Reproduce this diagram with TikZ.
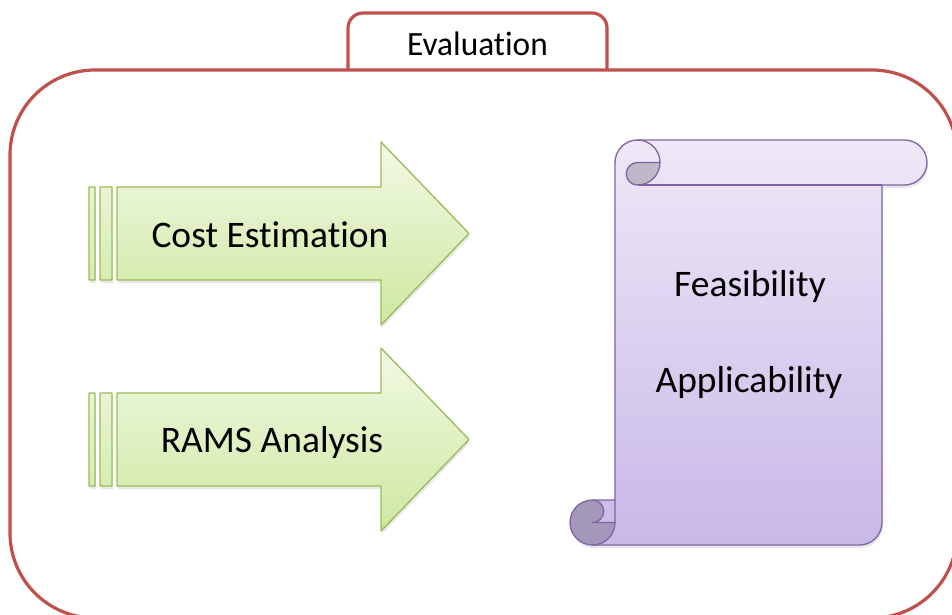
\documentclass[tikz,border=0pt]{standalone}
\usepackage{fontspec}
\setmainfont{Carlito}[Ligatures=NoCommon]
\usetikzlibrary{shadows}

\definecolor{frameRed}{RGB}{192,80,77}
\definecolor{arrowLine}{RGB}{155,187,89}
\definecolor{arrowTop}{RGB}{241,249,228}
\definecolor{arrowBot}{RGB}{206,232,160}
\definecolor{scrollLine}{RGB}{128,100,162}
\definecolor{scrollTop}{RGB}{238,232,247}
\definecolor{scrollBot}{RGB}{200,184,232}
\definecolor{curlTop}{RGB}{190,184,200}
\definecolor{curlBot}{RGB}{164,151,188}

\begin{document}
\begin{tikzpicture}[x=1pt, y=-1pt, line join=round,
  framepen/.style={draw=frameRed, line width=3.2pt},
  arrowshape/.style={draw=arrowLine, line width=1.3pt,
    top color=arrowTop, bottom color=arrowBot,
    drop shadow={opacity=0.18, shadow xshift=1pt, shadow yshift=-3pt}},
  scrollshape/.style={draw=none, top color=scrollTop, bottom color=scrollBot,
    drop shadow={opacity=0.18, shadow xshift=1pt, shadow yshift=-3pt}},
  scrollpen/.style={draw=scrollLine, line width=1.3pt},
  bigtext/.style={font=\fontsize{37.5}{42}\selectfont, anchor=base, inner sep=0pt},
  tabtext/.style={font=\fontsize{34}{38}\selectfont, anchor=base, inner sep=0pt}
]
\useasboundingbox (0,0) rectangle (952,615);
\fill[white] (0,0) rectangle (952,615);

% outer frame with its title tab
\begin{scope}
  \clip (0,0) rectangle (952,615);
  \draw[framepen, fill=white, rounded corners=15pt] (348,71) -- (348,13) -- (607,13) -- (607,71);
  \draw[framepen, rounded corners=85pt] (10,70) rectangle (957,618);
\end{scope}
\node[tabtext] (evaltitle) at (477.5,56) {\scalebox{0.98}[1]{Evaluation}};

% striped arrows
\foreach \cy in {233.5, 439.5}{
  \path[arrowshape]
    (89,\cy-46.5) rectangle (95,\cy+46.5)
    (100,\cy-46.5) rectangle (112,\cy+46.5)
    (117,\cy-46.5) -- (381,\cy-46.5) -- (381,\cy-91.5) -- (469,\cy)
      -- (381,\cy+91.5) -- (381,\cy+46.5) -- (117,\cy+46.5) -- cycle;
}
\node[bigtext] (cost) at (270,247) {Cost Estimation};
\node[bigtext] (rams) at (272,452) {RAMS Analysis};

% vertical scroll
\path[scrollshape]
  (615,500) -- (615,162.5) arc[start angle=180, end angle=270, radius=22.5]
  -- (904.5,140) arc[start angle=270, end angle=450, radius=22.5]
  -- (882,185) -- (882,522.5) arc[start angle=0, end angle=90, radius=22.5]
  -- (592.5,545) arc[start angle=90, end angle=270, radius=22.5] -- cycle;
% rolled-up curls
\fill[curlTop] (660,162.5) arc[start angle=0, end angle=90, radius=22.5]
  arc[start angle=90, end angle=270, radius=11.25] -- cycle;
\fill[curlBot] (615,522.5) arc[start angle=0, end angle=270, radius=22.5]
  arc[start angle=270, end angle=450, radius=11.25] -- cycle;
% scroll outlines
\draw[scrollpen]
  (615,500) -- (615,162.5) arc[start angle=180, end angle=270, radius=22.5]
  -- (904.5,140) arc[start angle=270, end angle=450, radius=22.5]
  -- (882,185) -- (882,522.5) arc[start angle=0, end angle=90, radius=22.5]
  -- (592.5,545) arc[start angle=90, end angle=270, radius=22.5] -- cycle;
\draw[scrollpen] (637.5,140) arc[start angle=270, end angle=450, radius=22.5]
  arc[start angle=90, end angle=270, radius=11.25] -- (660,162.5);
\draw[scrollpen] (882,185) -- (637.5,185);
\draw[scrollpen] (592.5,500) arc[start angle=270, end angle=450, radius=11.25] -- (615,522.5);
\draw[scrollpen] (592.5,545) arc[start angle=90, end angle=0, radius=22.5] -- (615,500);

\node[bigtext] (feas) at (750,296) {Feasibility};
\node[bigtext] (appl) at (749,392) {Applicability};
\end{tikzpicture}
\end{document}
